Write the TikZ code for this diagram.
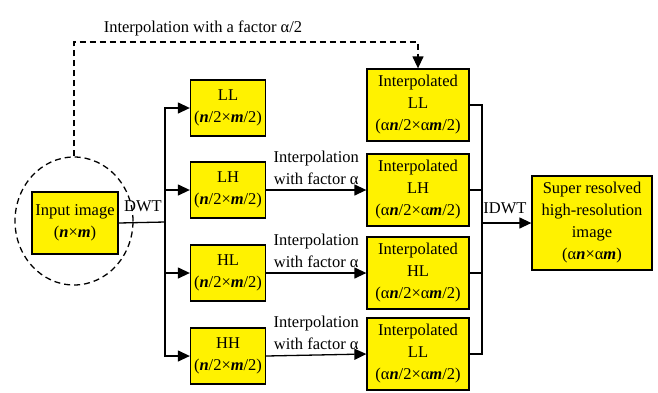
\documentclass[tikz,border=0pt]{standalone}
\usepackage{fontspec}
\setmainfont{Liberation Serif}
\usetikzlibrary{arrows.meta,shapes.geometric}
\begin{document}
\begin{tikzpicture}[x=1pt,y=-1pt,
  txt/.style={font=\fontsize{16.5}{22}\selectfont, align=center, inner sep=0pt},
  box/.style={txt, draw=black, line width=1.3pt, fill=yellow},
  small/.style={box, minimum width=75pt, minimum height=56pt},
  interp/.style={box, minimum width=102pt, minimum height=72pt},
  arr/.style={line width=1.3pt, -{Triangle[length=12pt,width=11pt]}},
  ln/.style={line width=1.3pt},
  dsh/.style={line width=1.3pt, dash pattern=on 6pt off 4pt}]
\useasboundingbox (0,0) rectangle (658,392);
\newcommand{\nn}{\textbf{\textit{n}}}
\newcommand{\mm}{\textbf{\textit{m}}}
% input
\node[box, minimum width=86pt, minimum height=62pt] (in) at (75,223) {Input image\\(\nn×\mm)};
\node[draw, dsh, ellipse, minimum width=118pt, minimum height=128pt] (circ) at (74,221) {};
% left boxes
\node[small] (LL) at (228,108) {LL\\(\nn/2×\mm/2)};
\node[small] (LH) at (228,190) {LH\\(\nn/2×\mm/2)};
\node[small] (HL) at (228,273) {HL\\(\nn/2×\mm/2)};
\node[small] (HH) at (228,356) {HH\\(\nn/2×\mm/2)};
% interpolated boxes
\node[interp] (ILL) at (418,105) {Interpolated\\LL\\(α\nn/2×α\mm/2)};
\node[interp] (ILH) at (418,190) {Interpolated\\LH\\(α\nn/2×α\mm/2)};
\node[interp] (IHL) at (418,273) {Interpolated\\HL\\(α\nn/2×α\mm/2)};
\node[interp] (IHH) at (418,354) {Interpolated\\LL\\(α\nn/2×α\mm/2)};
% super resolved
\node[box, minimum width=120pt, minimum height=94pt] (SR) at (592,223) {Super resolved\\high-resolution\\image\\(α\nn×α\mm)};
% DWT bus
\coordinate (b) at (165,222);
\draw[ln] (in.east) -- (b);
\node[txt, anchor=south] (dwt) at (143,212) {DWT};
\draw[arr] (b) |- (LL.west);
\draw[arr] (b) |- (LH.west);
\draw[arr] (b) |- (HL.west);
\draw[arr] (b) |- (HH.west);
% interpolation arrows
\draw[arr] (LH.east) -- (ILH.west) node[txt, midway, above=5pt] (l1) {Interpolation\\with factor α};
\draw[arr] (HL.east) -- (IHL.west) node[txt, midway, above=5pt] (l2) {Interpolation\\with factor α};
\draw[arr] (HH.east) -- (IHH.west) node[txt, midway, above=5pt] (l3) {Interpolation\\with factor α};
% right bus
\coordinate (rb) at (482,223);
\draw[ln] (ILL.east) -| (rb);
\draw[ln] (ILH.east) -| (rb);
\draw[ln] (IHL.east) -| (rb);
\draw[ln] (IHH.east) -| (rb);
\draw[arr] (rb) -- (SR.west);
\node[txt, anchor=south] (idwt) at (505,214) {IDWT};
% dashed top path
\coordinate (tl) at (74,42);
\draw[dsh, -{Triangle[length=12pt,width=11pt]}] (circ.north) -- (tl) -| (ILL.north);
\node[txt, anchor=south] (top) at (203,36) {Interpolation with a factor α/2};
\end{tikzpicture}
\end{document}
